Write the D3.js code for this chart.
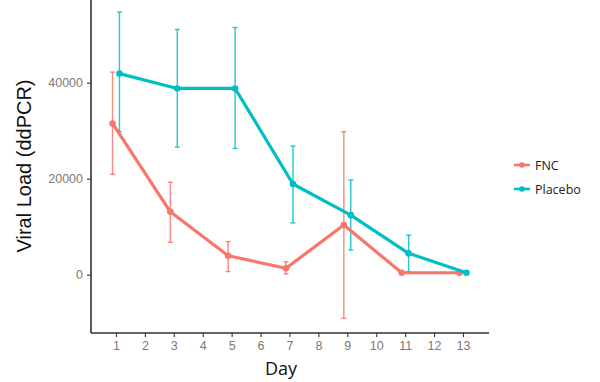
<!DOCTYPE html>
<html><head><meta charset="utf-8">
<script src="https://cdn.jsdelivr.net/npm/d3@7"></script>
<style>body{margin:0;background:#fff}svg{display:block}</style>
</head><body>
<script>
const days = [1, 3, 5, 7, 9, 11, 13];
const seriesNames = ["FNC", "Placebo"];
const fncMean  = [31500, 13100, 3950, 1350, 10350, 400, 400];
const fncLow   = [20900, 6750, 650, 150, -9100, 300, 300];
const fncHigh  = [42200, 19250, 6900, 2700, 29800, 500, 500];
const plaMean  = [41900, 38800, 38800, 18900, 12400, 4450, 400];
const plaLow   = [29800, 26600, 26300, 10800, 5150, 650, 300];
const plaHigh  = [54700, 51100, 51500, 26800, 19700, 8250, 500];
const xTicks = d3.range(1, 14);
const yTicks = [0, 20000, 40000];
const colors = ["#F8766D", "#00BFC4"];

const W = 600, H = 382;
const svg = d3.select("body").append("svg").attr("width", W).attr("height", H);

const x = d3.scaleLinear().domain([0.136, 13.9]).range([91, 489]);
const y = d3.scaleLinear().domain([-12150, 57230]).range([333, 0]);
const dodge = [-0.12, 0.12];

const series = [
  {name: seriesNames[0], mean: fncMean, lo: fncLow, hi: fncHigh},
  {name: seriesNames[1], mean: plaMean, lo: plaLow, hi: plaHigh}
];

// error bars
series.forEach((s, si) => {
  const g = svg.append("g");
  days.forEach((d, i) => {
    const xx = x(d + dodge[si]);
    g.append("line").attr("x1", xx).attr("x2", xx).attr("y1", y(s.lo[i])).attr("y2", y(s.hi[i]))
      .attr("stroke", colors[si]).attr("stroke-width", 1.4).attr("opacity", 0.85);
    [s.lo[i], s.hi[i]].forEach(v => {
      g.append("line").attr("x1", xx - 2.5).attr("x2", xx + 2.5).attr("y1", y(v)).attr("y2", y(v))
        .attr("stroke", colors[si]).attr("stroke-width", 1.4).attr("opacity", 0.85);
    });
  });
});

// lines and points
series.forEach((s, si) => {
  const line = d3.line().x((d, i) => x(days[i] + dodge[si])).y(d => y(d));
  svg.append("path").datum(s.mean).attr("d", line).attr("fill", "none")
    .attr("stroke", colors[si]).attr("stroke-width", 3.2).attr("stroke-linejoin", "round");
  svg.selectAll(null).data(s.mean).enter().append("circle")
    .attr("cx", (d, i) => x(days[i] + dodge[si])).attr("cy", d => y(d)).attr("r", 3.3)
    .attr("fill", colors[si]);
});

// axes
const xAxis = svg.append("g").attr("transform", "translate(0,333)")
  .call(d3.axisBottom(x).tickValues(xTicks).tickSize(4).tickPadding(4).tickFormat(d3.format("d")));
const yAxis = svg.append("g").attr("transform", "translate(91,0)")
  .call(d3.axisLeft(y).tickValues(yTicks).tickSize(4).tickPadding(4).tickFormat(d3.format("d")));
[xAxis, yAxis].forEach(a => {
  a.select(".domain").attr("stroke", "#333").attr("stroke-width", 1.6);
  a.selectAll(".tick line").attr("stroke", "#333").attr("stroke-width", 1.1);
  a.selectAll("text").attr("fill", "#7a7a7a").attr("font-family", "Liberation Sans, Arial, sans-serif").attr("font-size", 12.5);
});
xAxis.select(".domain").attr("d", "M91,0H489");
yAxis.select(".domain").attr("d", "M0,0V333");

// titles
svg.append("text").attr("x", 281).attr("y", 375).attr("text-anchor", "middle")
  .attr("font-family", "Open Sans, sans-serif").attr("font-size", 18).attr("fill", "#111").text("Day");
svg.append("text").attr("transform", "translate(31,166) rotate(-90)").attr("text-anchor", "middle")
  .attr("font-family", "Liberation Sans, Arial, sans-serif").attr("font-size", 20).attr("fill", "#111")
  .text("Viral Load (ddPCR)");

// legend
const legend = svg.append("g");
seriesNames.forEach((n, i) => {
  const ly = 165 + i * 24;
  legend.append("line").attr("x1", 514).attr("x2", 530).attr("y1", ly).attr("y2", ly)
    .attr("stroke", colors[i]).attr("stroke-width", 2.6);
  legend.append("circle").attr("cx", 522).attr("cy", ly).attr("r", 2.8).attr("fill", colors[i]);
  legend.append("text").attr("x", 535).attr("y", ly + 4.5).attr("font-family", "Open Sans, sans-serif")
    .attr("font-size", 12.5).attr("fill", "#222").text(n);
});
</script>
</body></html>
